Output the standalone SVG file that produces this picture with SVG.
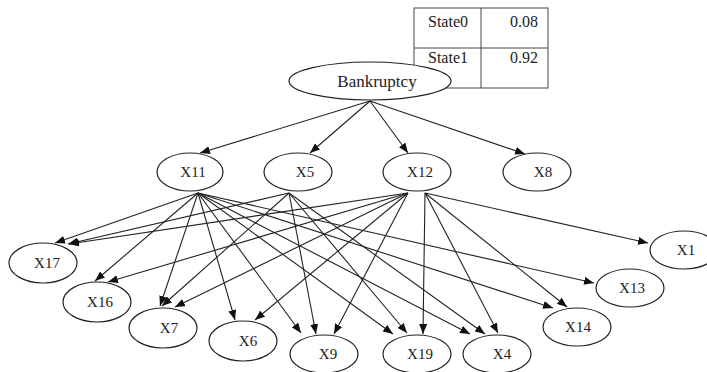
<svg xmlns="http://www.w3.org/2000/svg" width="707" height="372" viewBox="0 0 707 372">
<style>
.n ellipse{fill:#fff;stroke:#222;stroke-width:1.2}
.n text{font-family:"Liberation Serif","Times New Roman",serif;font-size:15px;fill:#222;text-anchor:middle}
.e line{stroke:#222;stroke-width:1.1;marker-end:url(#a)}
.t{font-family:"Liberation Serif","Times New Roman",serif;font-size:16px;fill:#222}
</style>
<defs>
<marker id="a" markerUnits="userSpaceOnUse" markerWidth="10" markerHeight="8" refX="10" refY="4" orient="auto">
<path d="M0,0 L10,4 L0,8 z" fill="#111"/>
</marker>
</defs>
<rect width="707" height="372" fill="#fff"/>
<g id="table">
<rect x="414" y="8" width="134" height="80" fill="#fff" stroke="#444" stroke-width="1"/>
<line x1="481" y1="8" x2="481" y2="88" stroke="#444" stroke-width="1"/>
<line x1="414" y1="48" x2="548" y2="48" stroke="#444" stroke-width="1"/>
<text class="t" x="428" y="27">State0</text>
<text class="t" x="538" y="27" text-anchor="end">0.08</text>
<text class="t" x="428" y="63">State1</text>
<text class="t" x="538" y="63" text-anchor="end">0.92</text>
</g>
<g class="e" id="edges">
<line x1="370" y1="101" x2="200" y2="153"/>
<line x1="370" y1="101" x2="310" y2="153"/>
<line x1="370" y1="101" x2="408" y2="153"/>
<line x1="370" y1="101" x2="525" y2="154"/>
<line x1="198" y1="193" x2="55" y2="243"/>
<line x1="198" y1="193" x2="95" y2="281"/>
<line x1="198" y1="193" x2="160" y2="306"/>
<line x1="198" y1="193" x2="235" y2="320"/>
<line x1="198" y1="193" x2="301" y2="333"/>
<line x1="198" y1="193" x2="393" y2="334"/>
<line x1="198" y1="193" x2="470" y2="334"/>
<line x1="198" y1="193" x2="553" y2="308"/>
<line x1="198" y1="193" x2="594" y2="283"/>
<line x1="289" y1="193" x2="68" y2="244"/>
<line x1="289" y1="193" x2="162" y2="306"/>
<line x1="289" y1="193" x2="316" y2="334"/>
<line x1="289" y1="193" x2="407" y2="333"/>
<line x1="289" y1="193" x2="485" y2="334"/>
<line x1="408" y1="193" x2="69" y2="244"/>
<line x1="408" y1="193" x2="108" y2="282"/>
<line x1="408" y1="193" x2="175" y2="307"/>
<line x1="408" y1="193" x2="255" y2="320"/>
<line x1="408" y1="193" x2="334" y2="334"/>
<line x1="425" y1="193" x2="423" y2="334"/>
<line x1="425" y1="193" x2="498" y2="333"/>
<line x1="425" y1="193" x2="567" y2="307"/>
<line x1="425" y1="193" x2="648" y2="243"/>
</g>
<g class="n" id="Bankruptcy"><ellipse cx="370" cy="81" rx="81" ry="19"/><text x="377" y="87" style="font-size:17px">Bankruptcy</text></g>
<g class="n" id="X11"><ellipse cx="190" cy="172" rx="33" ry="19"/><text x="193" y="177">X11</text></g>
<g class="n" id="X5"><ellipse cx="298" cy="172" rx="34" ry="19"/><text x="305" y="177">X5</text></g>
<g class="n" id="X12"><ellipse cx="417" cy="172" rx="34" ry="19"/><text x="420" y="177">X12</text></g>
<g class="n" id="X8"><ellipse cx="537" cy="172" rx="34" ry="19"/><text x="543" y="177">X8</text></g>
<g class="n" id="X17"><ellipse cx="43" cy="263" rx="34" ry="20"/><text x="47" y="268">X17</text></g>
<g class="n" id="X16"><ellipse cx="97" cy="302" rx="34" ry="20"/><text x="100" y="307">X16</text></g>
<g class="n" id="X7"><ellipse cx="163" cy="328" rx="34" ry="20"/><text x="169" y="333">X7</text></g>
<g class="n" id="X6"><ellipse cx="243" cy="341" rx="34" ry="20"/><text x="248" y="346">X6</text></g>
<g class="n" id="X9"><ellipse cx="324" cy="354" rx="34" ry="19"/><text x="328" y="359">X9</text></g>
<g class="n" id="X19"><ellipse cx="417" cy="354" rx="34" ry="19"/><text x="420" y="359">X19</text></g>
<g class="n" id="X4"><ellipse cx="497" cy="354" rx="34" ry="19"/><text x="502" y="359">X4</text></g>
<g class="n" id="X14"><ellipse cx="577" cy="327" rx="34" ry="19"/><text x="578" y="332">X14</text></g>
<g class="n" id="X13"><ellipse cx="630" cy="288" rx="34" ry="19"/><text x="632" y="293">X13</text></g>
<g class="n" id="X1"><ellipse cx="684" cy="250" rx="34" ry="19"/><text x="686" y="255">X1</text></g>
</svg>
